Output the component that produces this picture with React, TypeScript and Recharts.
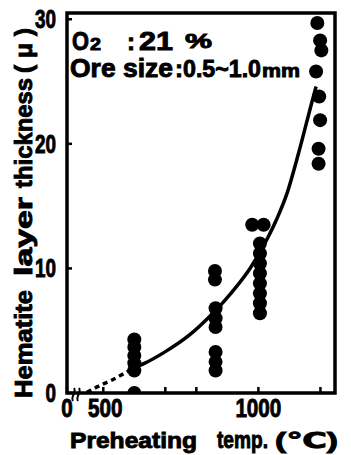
import React from 'react';
import { ComposedChart, Scatter, Line, XAxis, YAxis, ReferenceArea, Customized } from 'recharts';

// ---- axes ----
const X_AXIS_START = 383; // left edge of the broken axis, labelled "0"
const X_AXIS_END = 1247;
const Y_MAX = 30.5;
const xTicks = [X_AXIS_START, 500, 600, 700, 800, 900, 1000, 1100, 1200];
const xTickLabels: Record<number, string> = { [X_AXIS_START]: '0', 500: '500', 1000: '1000' };
const yTicks = [0, 10, 20, 30];

// ---- measured points (temp °C, thickness μ) ----
const points600: [number, number][] = [
  [600, 4.3], [600, 3.7], [600, 3.0], [600, 2.4], [600, 1.8], [600, 0],
];
const points860: [number, number][] = [
  [860, 9.8], [860, 9.1], [862, 6.8], [862, 6.0], [862, 5.3], [862, 3.3], [862, 2.5], [862, 1.8],
];
const points1000: [number, number][] = [
  [980, 13.5], [1017, 13.5], [1005, 12.0], [1005, 11.2], [1005, 10.4], [1005, 9.6],
  [1005, 8.8], [1005, 8.0], [1005, 7.2], [1005, 6.4],
];
const points1200: [number, number][] = [
  [1190, 29.7], [1199, 28.3], [1203, 27.5], [1186, 25.8], [1196, 23.8], [1199, 21.9],
  [1194, 19.6], [1194, 18.4],
];

// ---- fitted curve ----
const extrapolatedCurve: [number, number][] = [
  [447, 0.05], [489, 0.6], [525, 1.0], [555, 1.4], [580, 1.75], [600, 2.05],
];
const fittedCurve: [number, number][] = [
  [600, 2.05], [634, 2.4], [699, 3.3], [780, 4.7], [833, 5.9], [887, 7.3], [928, 8.5],
  [973, 10.0], [1027, 12.3], [1060, 14.0], [1092, 16.0], [1129, 19.2], [1172, 23.3], [1186, 24.6],
];

const toXY = (arr: [number, number][]) => arr.map(([x, y]) => ({ x, y }));
const scatterData = toXY([...points600, ...points860, ...points1000, ...points1200]);
const dottedData = toXY(extrapolatedCurve);
const solidData = toXY(fittedCurve);

const FONT = "'Liberation Sans', Arial, Helvetica, 'DejaVu Sans', sans-serif";
const HEAVY = { fill: '#000', stroke: '#000', strokeWidth: 0.9, fontFamily: FONT, fontWeight: 700 } as const;
const SG = 'spacingAndGlyphs';

const XTick = (props: any) => {
  const { x, y, payload } = props;
  const label = xTickLabels[payload.value];
  return (
    <g>
      {payload.value === X_AXIS_START && (
        <g stroke="#000" strokeWidth={2} fill="none">
          <path d={`M ${x + 6} ${y + 8} C ${x + 3} ${y + 4}, ${x + 10} ${y - 1}, ${x + 7} ${y - 5}`} />
          <path d={`M ${x + 11} ${y + 8} C ${x + 8} ${y + 4}, ${x + 15} ${y - 1}, ${x + 12} ${y - 5}`} />
        </g>
      )}
      {label && (
        <text
          {...HEAVY}
          x={x + (label === '500' ? 2 : 0)}
          y={y + 24}
          textAnchor="middle"
          fontSize={25}
          textLength={11.5 * label.length}
          lengthAdjust={SG}
        >
          {label}
        </text>
      )}
    </g>
  );
};

const YTick = (props: any) => {
  const { x, y, payload } = props;
  const label = String(payload.value);
  return (
    <text
      {...HEAVY}
      x={x - 11}
      y={y + 9}
      textAnchor="end"
      fontSize={25}
      textLength={10.5 * label.length}
      lengthAdjust={SG}
    >
      {label}
    </text>
  );
};

const Annotations = () => (
  <g {...HEAVY}>
    <text x={72} y={50} fontSize={25} textLength={17} lengthAdjust={SG}>O</text>
    <text x={90} y={50} fontSize={17} textLength={11} lengthAdjust={SG}>2</text>
    <text x={127} y={50} fontSize={24}>:</text>
    <text x={139} y={50} fontSize={25} textLength={34} lengthAdjust={SG}>21</text>
    <text x={185} y={48} fontSize={20} textLength={27} lengthAdjust={SG}>%</text>

    <text x={70} y={77} fontSize={25} textLength={103} lengthAdjust={SG}>Ore size</text>
    <text x={175} y={77} fontSize={24}>:</text>
    <text x={183} y={77} fontSize={24} textLength={78} lengthAdjust={SG}>0.5~1.0</text>
    <text x={262} y={77} fontSize={19} textLength={38} lengthAdjust={SG}>mm</text>

    <text x={70} y={448} fontSize={22} textLength={127} lengthAdjust={SG}>Preheating</text>
    <text x={217} y={448} fontSize={23} textLength={51} lengthAdjust={SG}>temp.</text>
    <text x={275} y={448} fontSize={22} textLength={63} lengthAdjust={SG}>(℃)</text>

    <text x={32} y={398} fontSize={24} transform="rotate(-90 32 398)" textLength={108} lengthAdjust={SG}>Hematite</text>
    <text x={32} y={276} fontSize={24} transform="rotate(-90 32 276)" textLength={79} lengthAdjust={SG}>layer</text>
    <text x={32} y={188} fontSize={24} transform="rotate(-90 32 188)" textLength={110} lengthAdjust={SG}>thickness</text>
    <text x={32} y={73} fontSize={24} transform="rotate(-90 32 73)" textLength={45} lengthAdjust={SG}>( μ )</text>
  </g>
);

const Dot = (props: any) => <circle cx={props.cx} cy={props.cy} r={7} fill="#000" />;

export default function App() {
  return (
    <div style={{ position: 'absolute', left: 0, top: 0, width: 351, height: 455, background: '#fff' }}>
      <ComposedChart width={351} height={455} margin={{ top: 13, right: 16, bottom: 0, left: 0 }}>
        <XAxis
          dataKey="x"
          type="number"
          domain={[X_AXIS_START, X_AXIS_END]}
          ticks={xTicks}
          allowDataOverflow
          height={62}
          tickSize={-6}
          tickMargin={6}
          tick={<XTick />}
          tickLine={{ stroke: '#000', strokeWidth: 2.5 }}
          axisLine={false}
        />
        <YAxis
          dataKey="y"
          type="number"
          domain={[0, Y_MAX]}
          ticks={yTicks}
          allowDataOverflow
          width={67}
          tickSize={-5}
          tickMargin={5}
          tick={<YTick />}
          tickLine={{ stroke: '#000', strokeWidth: 2.5 }}
          axisLine={false}
        />
        <ReferenceArea
          x1={X_AXIS_START}
          x2={X_AXIS_END}
          y1={0}
          y2={Y_MAX}
          fill="none"
          fillOpacity={0}
          stroke="#000"
          strokeWidth={3.5}
          ifOverflow="visible"
        />
        <Line
          data={dottedData}
          dataKey="y"
          type="monotone"
          stroke="#000"
          strokeWidth={3.5}
          strokeDasharray="5 4"
          dot={false}
          activeDot={false}
          isAnimationActive={false}
        />
        <Line
          data={solidData}
          dataKey="y"
          type="monotone"
          stroke="#000"
          strokeWidth={3.5}
          dot={false}
          activeDot={false}
          isAnimationActive={false}
        />
        <Scatter data={scatterData} dataKey="y" fill="#000" shape={<Dot />} isAnimationActive={false} />
        <Customized component={Annotations} />
      </ComposedChart>
    </div>
  );
}
